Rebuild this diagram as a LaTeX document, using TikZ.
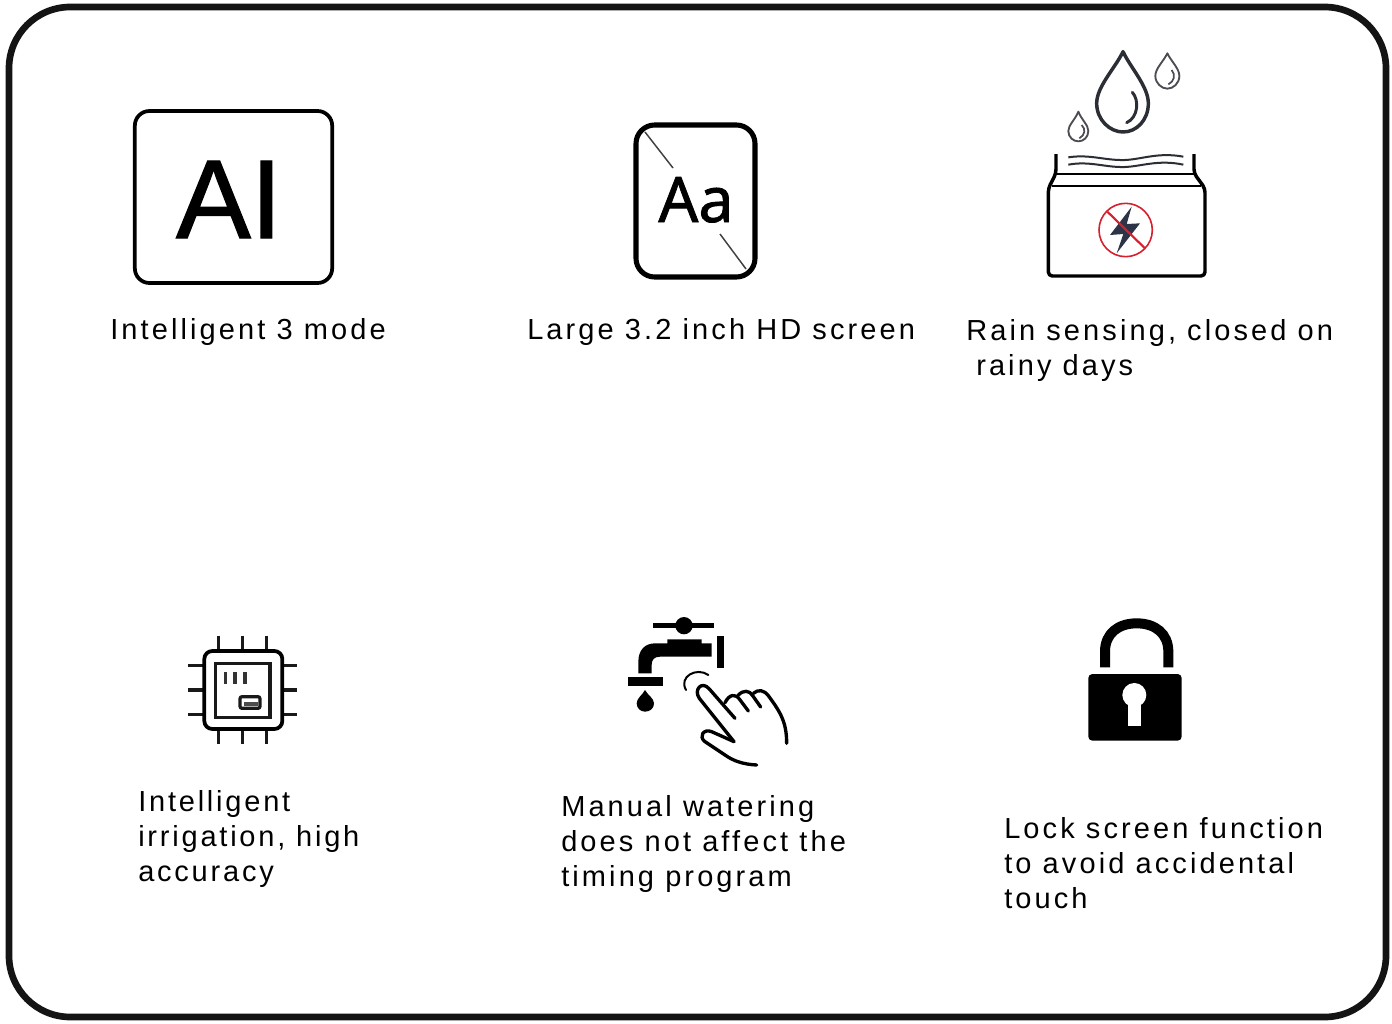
\documentclass[tikz,border=0pt]{standalone}
\usepackage{fontspec}
\setmainfont{Liberation Sans}
\newfontfamily\lblfont[LetterSpace=10.7]{Liberation Sans}
\newfontfamily\lblfontb[LetterSpace=9.6]{Liberation Sans}
\newfontfamily\aifont[FakeBold=1.2]{Liberation Sans}
\newfontfamily\iconfont[FakeBold=1.2]{Noto Sans}
\newcommand\lblsize{\lblfont\fontsize{21.75}{26.25}\selectfont}
\newcommand\lblsizeb{\lblfontb\fontsize{21.75}{26.25}\selectfont}
\newcommand\firstline{\rule{0pt}{16pt}}
\definecolor{inkdark}{HTML}{2B2E35}
\definecolor{boltblue}{HTML}{2E3447}
\definecolor{nogo}{HTML}{D5202E}
\tikzset{
  lbl/.style={anchor=north west,align=left,inner sep=0pt,font=\lblsize,text=black},
  lblb/.style={lbl,font=\lblsizeb},
  zoomed/.style={x=0.25pt,y=-0.25pt},
}
\begin{document}
\begin{tikzpicture}[x=0.75pt,y=-0.75pt]
\useasboundingbox (0,0) rectangle (1392,1024);
\fill[white] (0,0) rectangle (1392,1024);
\draw[line width=5pt,rounded corners=46pt,black!92] (9,7) rectangle (1386,1017);
% AI icon
\node[draw,line width=2.8pt,rounded corners=11pt,minimum width=148pt,minimum height=129pt,inner sep=0pt] (aibox) at (233.5,197) {};
\node[anchor=base,inner sep=0pt,font=\aifont\fontsize{84}{84}\selectfont] (aitext) at (229,238) {AI};
% Aa icon
\draw[line width=3.8pt,rounded corners=14pt] (636,125) rectangle (755,277);
\draw[line width=1.1pt,black!75] (645,132) -- (673,168);
\draw[line width=1.1pt,black!75] (720,234) -- (746,269);
\node[anchor=base,inner sep=0pt,font=\iconfont\fontsize{47}{47}\selectfont] (aatext) at (696,222) {Aa};
% Rain icon
\begin{scope}[shift={(1030,40)},zoomed]
  \draw[inkdark,line width=2.6pt,line join=round]
    (279,35) .. controls (255,85) and (200,140) .. (200,190)
    .. controls (200,240) and (240,276) .. (279,276)
    .. controls (320,276) and (355,240) .. (355,190)
    .. controls (355,140) and (303,85) .. (279,35) -- cycle;
  \draw[inkdark,line width=2.2pt,line cap=round]
    (307,157) .. controls (328,180) and (325,232) .. (290,248);
  \draw[inkdark!85,line width=1.4pt,line join=round]
    (412,40) .. controls (400,65) and (376,85) .. (376,108)
    .. controls (376,130) and (395,146) .. (412,146)
    .. controls (430,146) and (448,130) .. (448,108)
    .. controls (448,85) and (424,65) .. (412,40) -- cycle;
  \draw[inkdark!85,line width=1.3pt] (425,90) .. controls (438,105) and (432,125) .. (415,133);
  \draw[inkdark!85,line width=1.4pt,line join=round]
    (145,215) .. controls (135,240) and (115,255) .. (115,273)
    .. controls (115,292) and (130,304) .. (145,304)
    .. controls (160,304) and (175,292) .. (175,273)
    .. controls (175,255) and (155,240) .. (145,215) -- cycle;
  \draw[inkdark!85,line width=1.3pt] (155,255) .. controls (168,268) and (165,285) .. (148,295);
  \draw[inkdark,line width=1.5pt]
    (115,352) .. controls (180,342) and (225,362) .. (285,360)
    .. controls (335,358) and (385,336) .. (460,350);
  \draw[inkdark,line width=1.5pt]
    (115,374) .. controls (180,362) and (225,383) .. (285,381)
    .. controls (335,379) and (385,358) .. (460,374);
  \draw[black,line width=2.6pt,line join=round,rounded corners=3pt]
    (78,342) -- (78,400) -- (55,445) -- (55,708) -- (525,708) -- (525,445) -- (492,400) -- (492,342);
  \draw[black,line width=1.7pt] (78,403) -- (492,403);
  \draw[black,line width=2.2pt] (65,438) -- (512,438);
  \fill[boltblue] (305,500) -- (240,585) -- (280,582) -- (260,640) -- (330,550) -- (290,552) -- cycle;
  \draw[nogo,line width=1.2pt] (287,570) circle (80);
  \draw[nogo,line width=1.6pt] (232,515) -- (345,625);
\end{scope}
\node[lbl] (t1) at (110,317.67) {\firstline Intelligent 3 mode};
\node[lbl] (t2) at (527,317.67) {\firstline Large 3.2 inch HD screen};
\node[lbl] (t3) at (966,318.67) {\firstline Rain sensing, closed on\\\hspace*{7.5pt}rainy days};
% Chip icon
\begin{scope}[shift={(175,625)},zoomed]
  \foreach \p in {130,202,275}{
    \draw[line width=2.4pt,black!90] (\p,32) -- (\p,78);
    \draw[line width=2.4pt,black!90] (\p,312) -- (\p,358);
  }
  \foreach \p in {122,195,268}{
    \draw[line width=2.4pt,black!90] (40,\p) -- (88,\p);
    \draw[line width=2.4pt,black!90] (322,\p) -- (365,\p);
  }
  \draw[line width=2.8pt,rounded corners=6pt,fill=white] (88,78) rectangle (322,312);
  \draw[line width=2.6pt,black!90] (122,115) rectangle (285,278);
  \foreach \p in {152,180,210}{\draw[line width=2.4pt,black!80] (\p,142) -- (\p,178);}
  \draw[line width=2.4pt,black!90,rounded corners=1.5pt] (195,215) rectangle (255,250);
  \fill[black!70] (208,232) rectangle (250,242);
\end{scope}
\node[lblb] (t4) at (138,789.67) {\firstline Intelligent\\irrigation, high\\accuracy};
% Faucet icon
\begin{scope}[shift={(610,605)},zoomed]
  \draw[line width=3.6pt] (130,62) -- (312,62);
  \fill (222,62) circle (26);
  \fill (85,205) -- (85,170) .. controls (85,135) and (105,115) .. (135,115)
    -- (172,115) -- (172,103) -- (275,103) -- (275,115) -- (305,115) -- (305,155)
    -- (150,155) .. controls (132,155) and (125,165) .. (125,180) -- (125,205) -- cycle;
  \fill (320,93) rectangle (342,190);
  \fill (55,217) rectangle (158,242);
  \fill (105,255) .. controls (97,270) and (80,280) .. (80,295)
    .. controls (80,310) and (92,320) .. (105,320)
    .. controls (120,320) and (132,310) .. (132,295)
    .. controls (132,280) and (113,270) .. (105,255) -- cycle;
  \draw[line width=1.5pt,line cap=round] (295,210) .. controls (260,185) and (205,215) .. (228,255);
  \draw[line width=2.5pt,line cap=round,line join=round]
    (372,410) -- (268,280) .. controls (250,255) and (275,225) .. (298,252) -- (375,340);
  \draw[line width=2.5pt,line cap=round,line join=round]
    (345,293) .. controls (358,268) and (375,265) .. (388,282) -- (415,318);
  \draw[line width=2.5pt,line cap=round,line join=round]
    (385,270) .. controls (400,255) and (418,255) .. (428,272) -- (452,306);
  \draw[line width=2.5pt,line cap=round,line join=round]
    (430,265) .. controls (445,252) and (462,255) .. (475,272)
    .. controls (510,320) and (530,350) .. (530,415);
  \draw[line width=2.5pt,line cap=round,line join=round]
    (372,410) -- (305,380) .. controls (280,370) and (265,395) .. (285,410)
    -- (345,450) .. controls (370,468) and (400,478) .. (440,480);
\end{scope}
\node[lbl] (t5) at (561,794.67) {\firstline Manual watering\\does not affect the\\timing program};
% Lock icon
\begin{scope}[shift={(1075,610)},zoomed]
  \draw[line width=7.5pt] (90,172) -- (90,125) .. controls (90,70) and (130,40) .. (185,40)
    .. controls (240,40) and (280,70) .. (280,125) -- (280,172);
  \fill[rounded corners=3pt] (40,192) rectangle (320,392);
  \fill[white] (178,255) circle (36);
  \fill[white] (160,270) rectangle (197,348);
\end{scope}
\node[lbl] (t6) at (1004,816.67) {\firstline Lock screen function\\to avoid accidental\\touch};
\end{tikzpicture}
\end{document}
